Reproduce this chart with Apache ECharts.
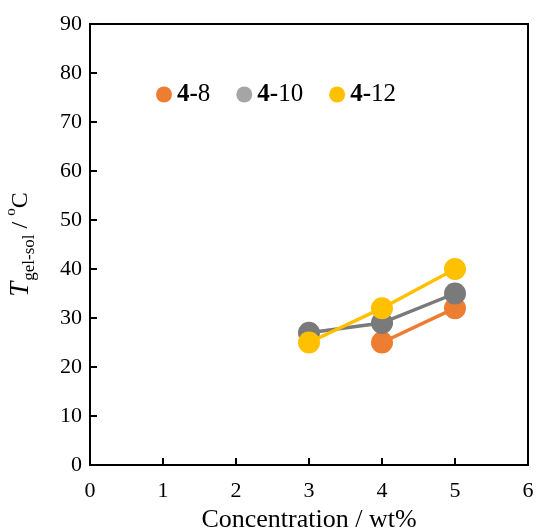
<!DOCTYPE html>
<html>
<head>
<meta charset="utf-8">
<script src="https://cdn.jsdelivr.net/npm/echarts@6/dist/echarts.min.js"></script>
<style>
  html, body { margin: 0; padding: 0; background: #fff; }
  #chart { width: 537px; height: 528px; }
</style>
</head>
<body>
<div id="chart"></div>
<script>
// Gel-sol transition temperature versus concentration
const concentrations = [3, 4, 5];
const series48 = [null, 25, 32];
const series410 = [27, 29, 35];
const series412 = [25, 32, 40];
const seriesNames = ['4-8', '4-10', '4-12'];
const lineColors = ['#ED7D31', '#7A7A7A', '#FFC000'];
const legendColors = ['#ED7D31', '#A5A5A5', '#FFC000'];

const FONT = '"Liberation Serif", "DejaVu Serif", serif';

function pairs(values) {
  return concentrations.map((c, i) => [c, values[i]]).filter(p => p[1] !== null);
}

const allValues = [series48, series410, series412];

const chart = echarts.init(document.getElementById('chart'), null, { renderer: 'canvas' });

chart.setOption({
  animation: false,
  backgroundColor: '#fff',
  grid: {
    left: 90, right: 9, top: 24, bottom: 63,
    containLabel: false, outerBoundsMode: 'none',
    show: true, borderColor: '#000', borderWidth: 2, backgroundColor: 'transparent'
  },
  legend: {
    left: 151, top: 77,
    itemWidth: 16, itemHeight: 16, itemGap: 26,
    icon: 'circle',
    data: seriesNames.map((n, i) => ({ name: n, itemStyle: { color: legendColors[i] } })),
    formatter: name => '{b|' + name.slice(0, 2) + '}{n|' + name.slice(2) + '}',
    textStyle: {
      rich: {
        b: { fontFamily: FONT, fontSize: 25, fontWeight: 'bold', color: '#000' },
        n: { fontFamily: FONT, fontSize: 25, color: '#000' }
      }
    }
  },
  xAxis: {
    type: 'value', min: 0, max: 6, interval: 1,
    name: 'Concentration / wt%',
    nameLocation: 'middle', nameGap: 38,
    nameTextStyle: { fontFamily: FONT, fontSize: 26, color: '#000' },
    axisLine: { show: true, lineStyle: { color: '#000', width: 2 } },
    axisTick: { show: true, inside: true, length: 7, lineStyle: { color: '#000', width: 2 } },
    axisLabel: { fontFamily: FONT, fontSize: 22, color: '#000', margin: 15 },
    splitLine: { show: false }
  },
  yAxis: {
    type: 'value', min: 0, max: 90, interval: 10,
    name: '{t|T}{s|gel-sol}{r| / }{o|o}{r|C}',
    nameLocation: 'middle', nameGap: 52, nameRotate: 90,
    nameTextStyle: {
      color: '#000',
      rich: {
        t: { fontFamily: FONT, fontSize: 27, fontStyle: 'italic', color: '#000', lineHeight: 34, verticalAlign: 'middle' },
        s: { fontFamily: FONT, fontSize: 17, color: '#000', lineHeight: 34, verticalAlign: 'bottom', padding: [0, 0, 0, 1] },
        r: { fontFamily: FONT, fontSize: 24, color: '#000', lineHeight: 34, verticalAlign: 'middle' },
        o: { fontFamily: FONT, fontSize: 15, color: '#000', lineHeight: 34, verticalAlign: 'top' }
      }
    },
    axisLine: { show: true, lineStyle: { color: '#000', width: 2 } },
    axisTick: { show: true, inside: true, length: 7, lineStyle: { color: '#000', width: 2 } },
    axisLabel: { fontFamily: FONT, fontSize: 22, color: '#000', margin: 8 },
    splitLine: { show: false }
  },
  series: seriesNames.map((n, i) => ({
    name: n,
    type: 'line',
    data: pairs(allValues[i]),
    symbol: 'circle',
    symbolSize: 22,
    itemStyle: { color: lineColors[i] },
    lineStyle: { color: lineColors[i], width: 3.5 },
    z: 2 + i
  }))
});
</script>
</body>
</html>
